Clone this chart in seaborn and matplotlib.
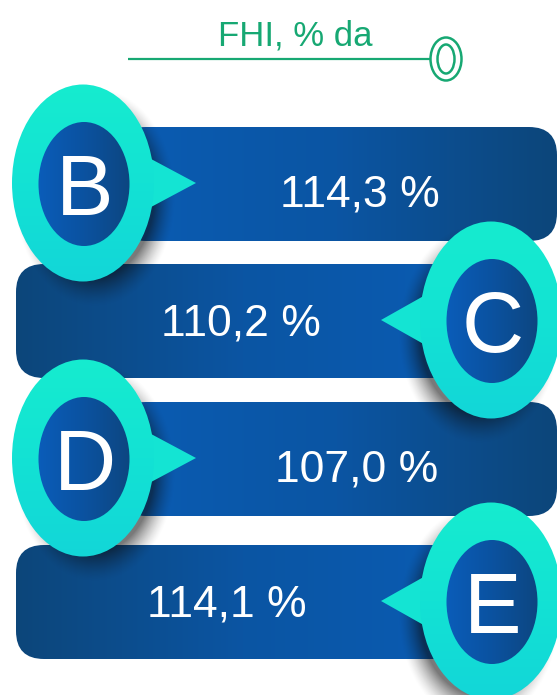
import numpy as np
import matplotlib
matplotlib.use("Agg")
import matplotlib.pyplot as plt
import seaborn as sns
from matplotlib.patches import FancyBboxPatch, Ellipse, Polygon
from matplotlib.colors import LinearSegmentedColormap

# ---- data ----
title = "FHI, % da"
letters = ["B", "C", "D", "E"]
values = [114.3, 110.2, 107.0, 114.1]
sides = ["left", "right", "left", "right"]

sns.set_theme(style="white")
plt.rcParams["font.family"] = ["Liberation Sans", "DejaVu Sans"]

W, H = 557, 695
fig = plt.figure(figsize=(W / 100, H / 100), dpi=100)
ax = fig.add_axes([0, 0, 1, 1])
ax.set_xlim(0, W)
ax.set_ylim(H, 0)
ax.axis("off")

green = "#17a873"
bar_cmap = LinearSegmentedColormap.from_list("bar", ["#0a5cb3", "#0b55a3", "#0d467a"])
inner_cmap = LinearSegmentedColormap.from_list("inner", ["#0a5dba", "#0b52a0", "#0d4680"])
outer_cmap = LinearSegmentedColormap.from_list("outer", ["#16eccf", "#13e2d4", "#12d6d8"])

# ---- title ----
ax.text(295, 36, title, color=green, fontsize=25, ha="center", va="center")
ax.plot([128, 431], [59, 59], color=green, lw=1.6, solid_capstyle="butt")
ax.add_patch(Ellipse((446, 59), 31, 43, fill=False, ec=green, lw=1.8))
ax.add_patch(Ellipse((446, 59), 17, 29, fill=False, ec=green, lw=1.8))

row_top = [127, 264, 402, 545]
bar_h = 114
grad = np.linspace(0, 1, 256).reshape(1, -1)
value_x = [360, 241, 357, 227]

# ---- bars ----
for i, side in enumerate(sides):
    y0 = row_top[i]
    if side == "left":
        x0, x1 = 118, 557
        g = grad
    else:
        x0, x1 = 16, 470
        g = grad[:, ::-1]
    patch = FancyBboxPatch((x0, y0), x1 - x0, bar_h,
                           boxstyle="round,pad=0,rounding_size=28",
                           fc="none", ec="none")
    ax.add_patch(patch)
    im = ax.imshow(g, cmap=bar_cmap, extent=[x0, x1, y0 + bar_h, y0],
                   aspect="auto", interpolation="bilinear", zorder=1)
    im.set_clip_path(patch)

# ---- bubble geometry ----
centers = []
for i, side in enumerate(sides):
    cy = row_top[i] + 56
    cx = 83 if side == "left" else 491
    centers.append((cx, cy))

# ---- shadows ----
X, Y = np.meshgrid(np.arange(W) + 0.5, np.arange(H) + 0.5)
alpha = np.zeros((H, W))
for (cx, cy), side in zip(centers, sides):
    dx = 12 if side == "left" else -12
    d = np.sqrt(((X - cx - dx) / 72) ** 2 + ((Y - cy - 14) / 98) ** 2)
    a = 0.55 * np.clip((1.12 - d) / 0.3, 0, 1) ** 1.5
    alpha = np.maximum(alpha, a)
shadow = np.zeros((H, W, 4))
shadow[..., :3] = 0.05
shadow[..., 3] = alpha
ax.imshow(shadow, extent=[0, W, H, 0], aspect="auto", zorder=2, interpolation="bilinear")

# ---- bubbles ----
for i, ((cx, cy), side) in enumerate(zip(centers, sides)):
    tip = cx + 113 if side == "left" else cx - 110
    base = cx + 55 if side == "left" else cx - 55
    ax.add_patch(Polygon([[base, cy - 31], [tip, cy], [base, cy + 31]],
                         closed=True, fc="#14e4d3", ec="none", zorder=3))
    outer = Ellipse((cx, cy), 142, 197, fc="none", ec="none")
    ax.add_patch(outer)
    im = ax.imshow(np.linspace(0, 1, 256).reshape(-1, 1), cmap=outer_cmap,
                   extent=[cx - 72, cx + 72, cy + 100, cy - 100],
                   aspect="auto", interpolation="bilinear", zorder=4)
    im.set_clip_path(outer)
    inner = Ellipse((cx + 1, cy + 1), 91, 124, fc="none", ec="none")
    ax.add_patch(inner)
    im2 = ax.imshow(grad, cmap=inner_cmap,
                    extent=[cx - 46, cx + 48, cy + 64, cy - 63],
                    aspect="auto", interpolation="bilinear", zorder=5)
    im2.set_clip_path(inner)
    ax.text(cx + 2, cy + 10, letters[i], color="white", fontsize=62,
            ha="center", va="center", zorder=6)

# ---- values ----
for i, (v, side) in enumerate(zip(values, sides)):
    cy = row_top[i] + (68 if side == "left" else 60)
    ax.text(value_x[i], cy, f"{v:.1f} %".replace(".", ","), color="white",
            fontsize=32, ha="center", va="center", zorder=6)

ax.set_xlim(0, W)
ax.set_ylim(H, 0)
fig.savefig("out.png", dpi=100)
